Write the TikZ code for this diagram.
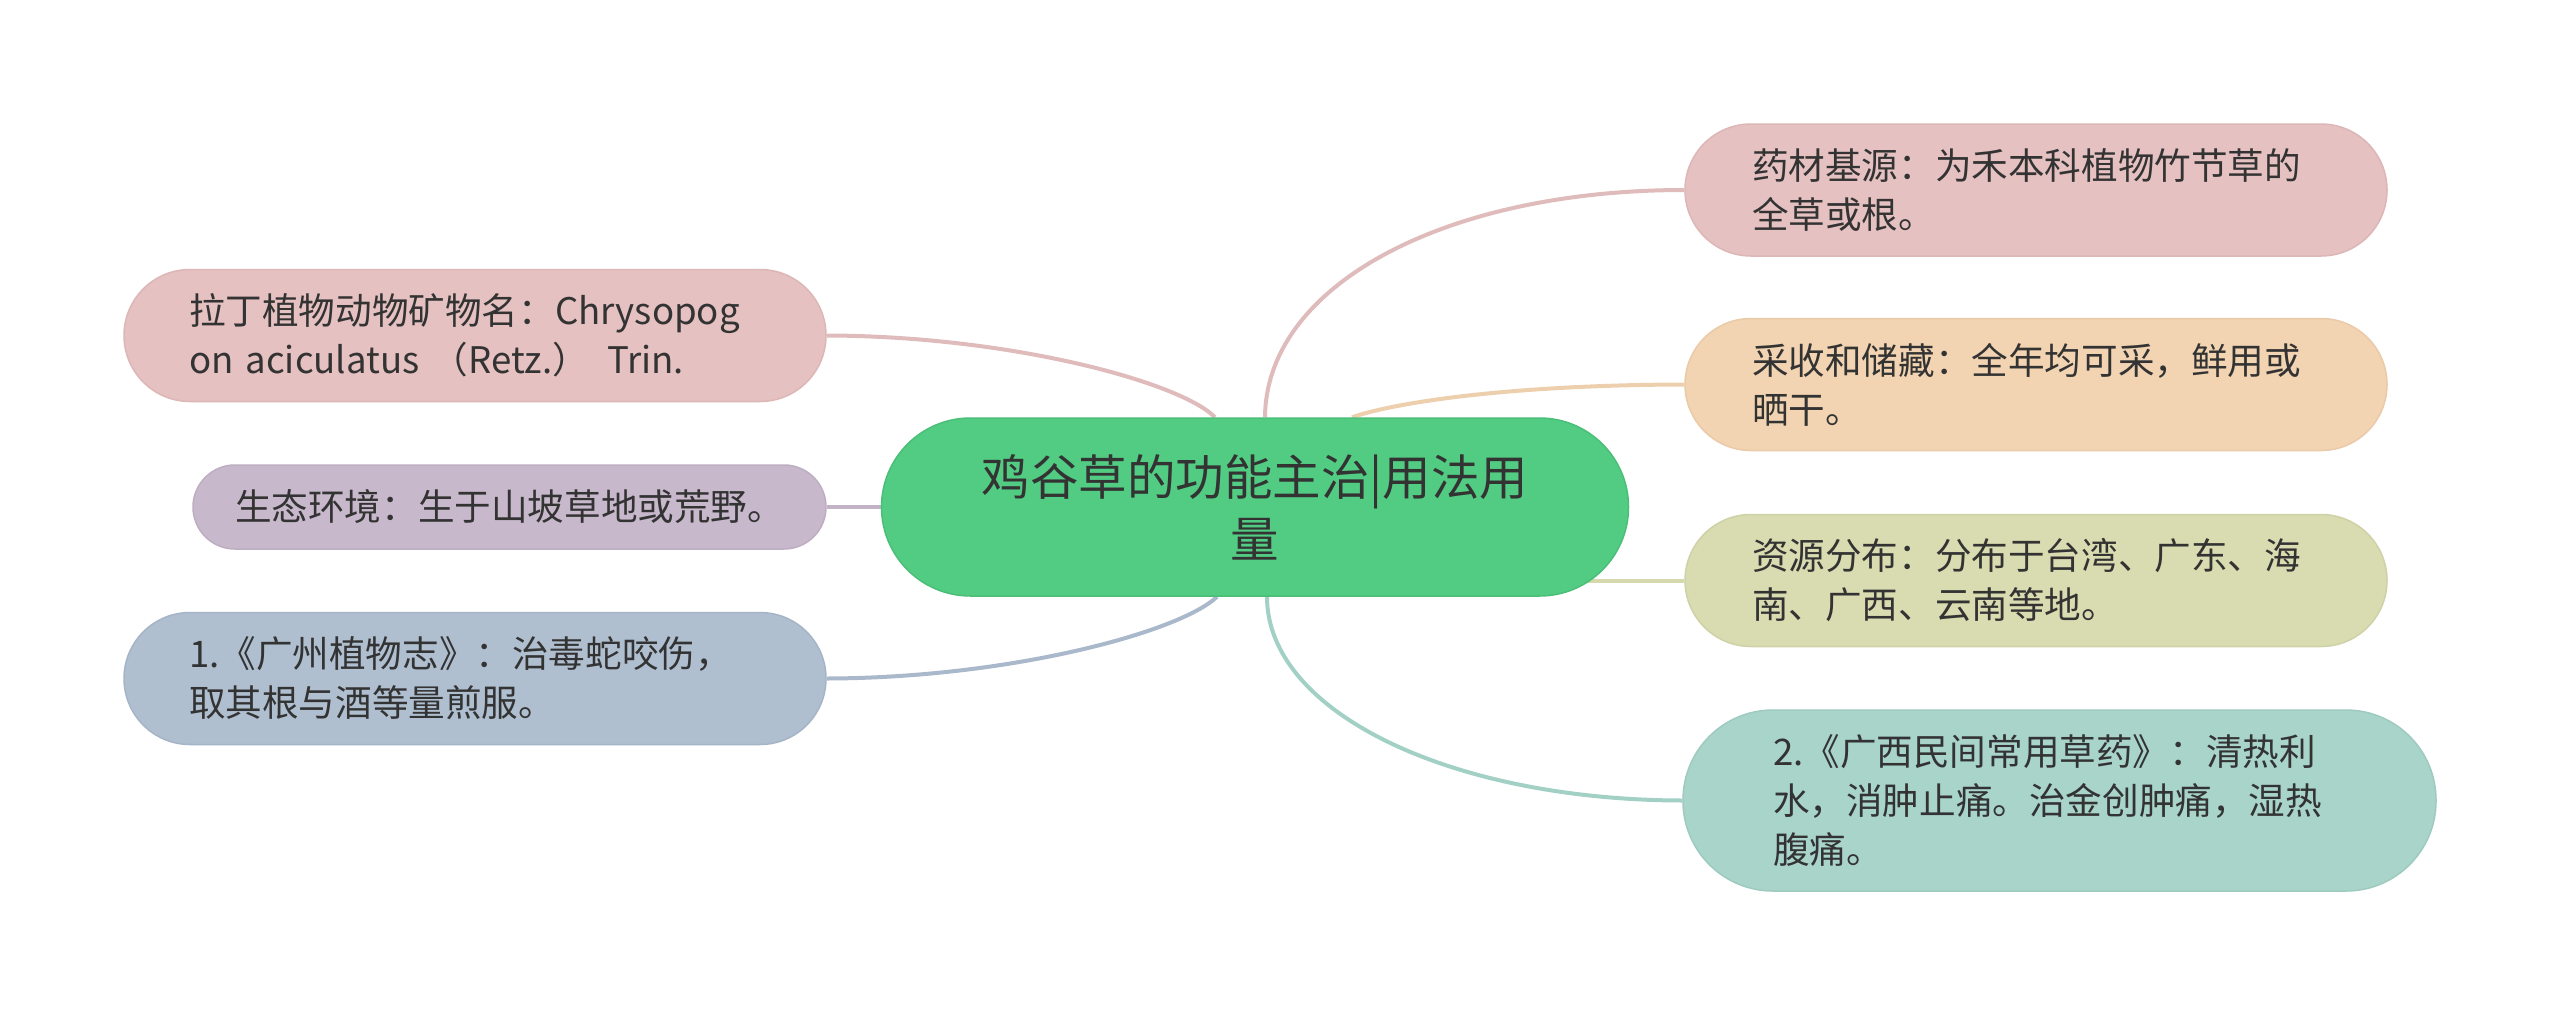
\documentclass[tikz,border=0pt]{standalone}
\usepackage{fontspec}
\setmainfont{Noto Sans CJK SC}
\usetikzlibrary{backgrounds}
\definecolor{textc}{HTML}{333333}
\definecolor{cgreen}{HTML}{52CC83}
\definecolor{cgreenD}{HTML}{4BBE78}
\definecolor{pinkF}{HTML}{E6C1C1}
\definecolor{pinkD}{HTML}{DDB6B6}
\definecolor{pinkL}{HTML}{E0BBBB}
\definecolor{orangeF}{HTML}{F2D4B2}
\definecolor{orangeD}{HTML}{EACAA8}
\definecolor{orangeL}{HTML}{EDCFAE}
\definecolor{yellowF}{HTML}{D9DCB0}
\definecolor{yellowD}{HTML}{CFD2A6}
\definecolor{yellowL}{HTML}{D6D9AD}
\definecolor{tealF}{HTML}{A8D4CA}
\definecolor{tealD}{HTML}{9ECABF}
\definecolor{tealL}{HTML}{A3D0C5}
\definecolor{blueF}{HTML}{AFBFD0}
\definecolor{blueD}{HTML}{A5B5C7}
\definecolor{blueL}{HTML}{A9B8CA}
\definecolor{purpleF}{HTML}{C8B8CB}
\definecolor{purpleD}{HTML}{BEAEC1}
\definecolor{purpleL}{HTML}{C3B3C6}
\tikzset{
  cnode/.style={fill=cgreen, draw=cgreenD, line width=1.5pt, rounded corners=89pt,
    minimum width=747pt, minimum height=178pt, align=center, inner sep=0pt,
    font=\fontsize{48.5}{62}\selectfont, text=textc},
  leaf/.style={line width=1.5pt, align=left, inner ysep=0pt, text=textc,
    font=\fontsize{36.6}{49}\selectfont},
  wide/.style={minimum width=702pt, minimum height=132pt, text width=568pt,
    inner xsep=67pt, rounded corners=66pt},
  link/.style={line width=4pt}
}
\begin{document}
\begin{tikzpicture}[x=1pt,y=-1pt]
\useasboundingbox (0,0) rectangle (2560,1015);

\node[cnode] (c) at (1255,507) {鸡谷草的功能主治|用法用\\量};

\node[leaf, wide, fill=pinkF, draw=pinkD] (r1) at (2036,190)
  {药材基源：为禾本科植物竹节草的\\全草或根。};
\node[leaf, wide, fill=orangeF, draw=orangeD] (r2) at (2036,384.5)
  {采收和储藏：全年均可采，鲜用或\\晒干。};
\node[leaf, wide, fill=yellowF, draw=yellowD] (r3) at (2036,580.5)
  {资源分布：分布于台湾、广东、海\\南、广西、云南等地。};
\node[leaf, fill=tealF, draw=tealD, minimum width=753pt, minimum height=181pt,
  text width=573pt, inner xsep=90pt, rounded corners=90pt] (r4) at (2059.5,800.5)
  {2.《广西民间常用草药》：清热利\\水，消肿止痛。治金创肿痛，湿热\\腹痛。};

\node[leaf, wide, fill=pinkF, draw=pinkD, text width=572pt, inner xsep=65pt] (l1) at (475,335.5)
  {拉丁植物动物矿物名：Chrysopog\\on aciculatus （Retz.） Trin.};
\node[leaf, fill=purpleF, draw=purpleD, minimum width=633pt, minimum height=84pt,
  text width=549pt, inner xsep=42pt, rounded corners=42pt] (l2) at (509.5,507)
  {生态环境：生于山坡草地或荒野。};
\node[leaf, wide, fill=blueF, draw=blueD, text width=572pt, inner xsep=65pt] (l3) at (475,678.5)
  {1.《广州植物志》：治毒蛇咬伤，\\取其根与酒等量煎服。};

\begin{scope}[on background layer]
\fill[white] (0,0) rectangle (2560,1015);
\draw[link, pinkL] ([xshift=10pt]c.north) .. controls (1266,285) and (1445,190) .. (r1.west);
\draw[link, orangeL] ([xshift=97pt]c.north) .. controls (1390,404) and (1500,385) .. (r2.west);
\draw[link, yellowL] (r3.west) -- (r3.west -| c.center);
\draw[link, tealL] ([xshift=12pt]c.south) .. controls (1267,712) and (1450,800) .. (r4.west);
\draw[link, pinkL] ([xshift=-40pt]c.north) .. controls (1180,382) and (1010,336) .. (l1.east);
\draw[link, purpleL] (l2.east) -- (c.west);
\draw[link, blueL] ([xshift=-38pt]c.south) .. controls (1180,632) and (1010,678) .. (l3.east);
\end{scope}
\end{tikzpicture}
\end{document}
